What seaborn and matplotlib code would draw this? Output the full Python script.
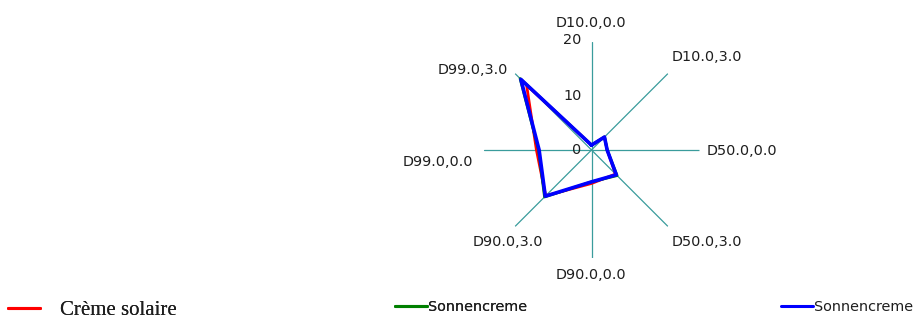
import numpy as np
import pandas as pd
import matplotlib
matplotlib.use("Agg")
import matplotlib.pyplot as plt
import seaborn as sns

# Radar axes, clockwise from the top
categories = ["D10.0,0.0", "D10.0,3.0", "D50.0,0.0", "D50.0,3.0",
              "D90.0,0.0", "D90.0,3.0", "D99.0,0.0", "D99.0,3.0"]

creme_solaire = [0.9, 3.4, 2.9, 6.3, 6.2, 12.0, 10.2, 17.0]
sonnencreme_a = [0.9, 3.4, 2.9, 6.7, 5.9, 12.3, 9.8, 18.7]
sonnencreme_b = [0.9, 3.4, 2.9, 6.5, 5.9, 12.1, 9.7, 18.5]

series_names = ["Crème solaire", "Sonnencreme", "Sonnencreme"]
series_colors = ["#ff0000", "#008000", "#0000ff"]
series_widths = [2.0, 2.0, 2.6]

radial_ticks = [0, 10, 20]
r_max = 20

sns.set_theme(style="white")
plt.rcParams["font.family"] = ["DejaVu Sans"]

W, H = 917, 322
fig = plt.figure(figsize=(W / 100, H / 100), dpi=100)

cx, cy, rad = 591.5, 150.0, 108.0
ax = fig.add_axes([(cx - rad) / W, (H - cy - rad) / H, 2 * rad / W, 2 * rad / H],
                  projection="polar")
ax.set_theta_zero_location("N")
ax.set_theta_direction(-1)
ax.set_ylim(0, r_max)
ax.grid(False)
ax.set_xticks([])
ax.set_yticks([])
ax.spines["polar"].set_visible(False)
ax.patch.set_alpha(0)

n = len(categories)
angles = np.arange(n) * 2 * np.pi / n

# spokes
for t in angles:
    ax.plot([t, t], [0, r_max], color="#3a9c9c", lw=0.9, zorder=1)

# series polygons, closed by returning to the first axis at a full turn
closed_angles = np.append(angles, 2 * np.pi)
for idx, (vals, col, lw) in enumerate(zip([creme_solaire, sonnencreme_a, sonnencreme_b],
                                         series_colors, series_widths)):
    df = pd.DataFrame({"theta": closed_angles, "r": np.append(vals, vals[0])})
    sns.lineplot(data=df, x="theta", y="r", sort=False, estimator=None, ax=ax,
                 color=col, lw=lw, zorder=2 + idx, legend=False)
ax.set_xlabel("")
ax.set_ylabel("")

# category labels: (pixel offset from spoke tip, alignment)
label_layout = [((-1, 19), "center"), ((4, 17), "left"), ((7, -1), "left"),
                ((4, -15.5), "left"), ((-1, -17), "center"), ((-7, -15.5), "center"),
                ((-10, -11.5), "right"), ((-7, 4), "right")]
text_kw = dict(fontsize=10.4, color="#1e1e1e", family=["DejaVu Sans"])
for t, name, (off, ha) in zip(angles, categories, label_layout):
    ax.annotate(name, xy=(t, r_max), xytext=off, textcoords="offset pixels",
                ha=ha, va="center", annotation_clip=False, **text_kw)

# radial tick labels beside the vertical spoke
for v in radial_ticks:
    ax.annotate(str(v), xy=(0, v), xytext=(-10, 2 if v == r_max else 0),
                textcoords="offset pixels", ha="right", va="center",
                annotation_clip=False, **text_kw)

# legends along the bottom edge
lines = [l for l in ax.get_lines()[n:]]
leg1 = fig.legend([lines[0]], [series_names[0]], loc="center left",
                  bbox_to_anchor=(8 / W, 1 - 310 / H), frameon=False,
                  borderpad=0, borderaxespad=0, handlelength=1.55, handletextpad=0.95,
                  prop={"family": "Liberation Serif", "size": 15})
fig.add_artist(leg1)
leg2 = fig.legend([lines[1]], [series_names[1]], loc="center left",
                  bbox_to_anchor=(395 / W, 1 - 307 / H), frameon=False,
                  borderpad=0, borderaxespad=0, handlelength=2.2, handletextpad=0.1,
                  prop={"family": "DejaVu Sans", "size": 10.4})
fig.add_artist(leg2)
leg3 = fig.legend([lines[2]], [series_names[2]], loc="center left",
                  bbox_to_anchor=(781 / W, 1 - 307 / H), frameon=False,
                  borderpad=0, borderaxespad=0, handlelength=2.2, handletextpad=0.1,
                  prop={"family": "DejaVu Sans", "size": 10.4})
for lg in (leg1, leg2, leg3):
    for h in lg.legend_handles:
        h.set_linewidth(2.2)
    for tx in lg.get_texts():
        tx.set_color("#1e1e1e")

fig.savefig("out.png", dpi=100, facecolor="white")
